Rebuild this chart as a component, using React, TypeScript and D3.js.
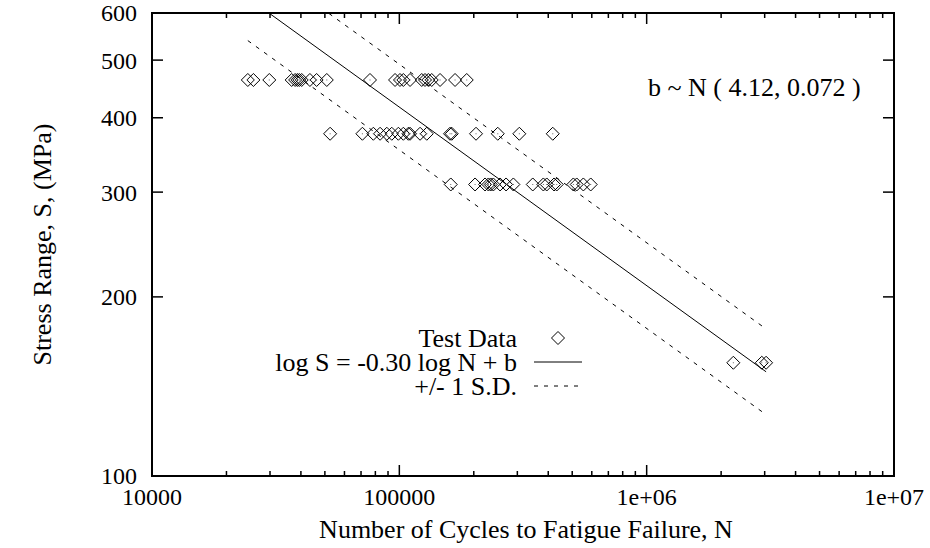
import React from "react";
import * as d3 from "d3";

// stress levels (MPa) of the four test groups
const stressLevels = [463, 376, 309, 155];

// cycles to failure for each stress level
const cyclesAt463 = [
  24400, 25700, 29800, 36700, 37900, 38700, 39400, 40300, 43500, 46300, 50900,
  76100, 96100, 100600, 103800, 110500, 123200, 127000, 131000, 135200, 146100,
  168000, 187300,
];
const cyclesAt376 = [
  52500, 70900, 78500, 83600, 89000, 93200, 99100, 103800, 108800, 110500,
  121300, 129100, 160300, 162900, 204200, 250000, 305600, 417200,
];
const cyclesAt309 = [
  161400, 202400, 222100, 229100, 234200, 239900, 255400, 270100, 289100,
  346300, 382200, 394500, 422200, 433000, 505300, 521500, 554600, 594000,
];
const cyclesAt155 = [2241000, 2920000, 3040000];

// fitted S-N curve: log S = slope * log N + b, b ~ N(bMean, bSd)
const slope = -0.3;
const bMean = 4.12;
const bSd = 0.072;
const fitRange = [24400, 3040000];

const xTickValues = [1e4, 1e5, 1e6, 1e7];
const xTickLabels = ["10000", "100000", "1e+06", "1e+07"];
const yTickValues = [100, 200, 300, 400, 500, 600];

const legendLabels = ["Test Data", "log S = -0.30 log N + b", "+/- 1 S.D."];

const W = 930;
const H = 548;
const left = 152;
const right = 894;
const top = 13;
const bottom = 476;
const font = "'Liberation Serif', 'Times New Roman', serif";
const tickFs = 24;
const labelFs = 26;

const App = () => {
  const x = d3.scaleLog().domain([1e4, 1e7]).range([left, right]);
  const y = d3.scaleLog().domain([100, 600]).range([bottom, top]);

  const groups = [cyclesAt463, cyclesAt376, cyclesAt309, cyclesAt155];
  const points = groups.flatMap((g, i) => g.map((n) => ({ n, s: stressLevels[i] })));

  // minor ticks on x: 2..9 of each decade
  const minorX: number[] = [];
  for (let e = 4; e < 7; e++) {
    for (let k = 2; k <= 9; k++) minorX.push(k * Math.pow(10, e));
  }

  const fitLine = (b: number) => {
    const line = d3
      .line<number>()
      .x((n) => x(n))
      .y((n) => y(Math.pow(10, slope * Math.log10(n) + b)));
    return line(fitRange) || "";
  };

  const diamond = (cx: number, cy: number, r = 6.5) =>
    `M${cx},${cy - r}L${cx + r},${cy}L${cx},${cy + r}L${cx - r},${cy}Z`;

  const legendY = [338, 362, 386];
  const legendTextX = 517;
  const sampleX0 = 534;
  const sampleX1 = 582;

  return (
    <svg
      width={W}
      height={H}
      style={{ position: "absolute", left: 0, top: 0, background: "#fff" }}
      fontFamily={font}
      fontSize={labelFs}
    >
      <defs>
        <clipPath id="plotClip">
          <rect x={left} y={top} width={right - left} height={bottom - top} />
        </clipPath>
      </defs>

      {/* x ticks (bottom + mirrored top) */}
      {minorX.map((v) => (
        <g key={"mx" + v} stroke="#000" strokeWidth={1.5}>
          <line x1={x(v)} x2={x(v)} y1={bottom} y2={bottom - 5} />
          <line x1={x(v)} x2={x(v)} y1={top} y2={top + 5} />
        </g>
      ))}
      {xTickValues.map((v, i) => (
        <g key={"x" + v}>
          <line x1={x(v)} x2={x(v)} y1={bottom} y2={bottom - 11} stroke="#000" strokeWidth={1.5} />
          <line x1={x(v)} x2={x(v)} y1={top} y2={top + 11} stroke="#000" strokeWidth={1.5} />
          <text x={x(v)} y={bottom + 29} textAnchor="middle" fontSize={tickFs}>
            {xTickLabels[i]}
          </text>
        </g>
      ))}

      {/* y ticks (left + mirrored right) */}
      {yTickValues.map((v) => (
        <g key={"y" + v}>
          <line x1={left} x2={left + 11} y1={y(v)} y2={y(v)} stroke="#000" strokeWidth={1.5} />
          <line x1={right} x2={right - 11} y1={y(v)} y2={y(v)} stroke="#000" strokeWidth={1.5} />
          <text x={137} y={y(v)} dy="0.35em" textAnchor="end" fontSize={tickFs}>
            {v}
          </text>
        </g>
      ))}

      {/* frame */}
      <rect
        x={left}
        y={top}
        width={right - left}
        height={bottom - top}
        fill="none"
        stroke="#000"
        strokeWidth={2}
      />

      {/* fitted lines */}
      <g clipPath="url(#plotClip)" fill="none" stroke="#000" strokeWidth={1}>
        <path d={fitLine(bMean)} />
        <path d={fitLine(bMean + bSd)} strokeDasharray="4,6" />
        <path d={fitLine(bMean - bSd)} strokeDasharray="4,6" />
      </g>

      {/* test data */}
      <g fill="none" stroke="#000" strokeWidth={1}>
        {points.map((p, i) => (
          <path key={i} d={diamond(x(p.n), y(p.s))} />
        ))}
      </g>
      <g fill="#666">
        {points.map((p, i) => (
          <rect key={i} x={x(p.n) - 0.5} y={y(p.s) - 0.5} width={1} height={1} />
        ))}
      </g>

      {/* annotation */}
      <text x={648} y={96}>
        b ~ N ( 4.12, 0.072 )
      </text>

      {/* legend */}
      {legendLabels.map((t, i) => (
        <text key={t} x={legendTextX} y={legendY[i]} dy="0.35em" textAnchor="end">
          {t}
        </text>
      ))}
      <path d={diamond((sampleX0 + sampleX1) / 2, legendY[0])} fill="none" stroke="#000" />
      <line x1={sampleX0} x2={sampleX1} y1={legendY[1]} y2={legendY[1]} stroke="#000" />
      <line
        x1={sampleX0}
        x2={sampleX1}
        y1={legendY[2]}
        y2={legendY[2]}
        stroke="#000"
        strokeDasharray="4,6"
      />

      {/* axis titles */}
      <text x={(left + right) / 2 + 3} y={538} textAnchor="middle">
        Number of Cycles to Fatigue Failure, N
      </text>
      <text
        transform={`translate(42, ${(top + bottom) / 2}) rotate(-90)`}
        textAnchor="middle"
        dy="0.35em"
      >
        Stress Range, S, (MPa)
      </text>
    </svg>
  );
};

export default App;
